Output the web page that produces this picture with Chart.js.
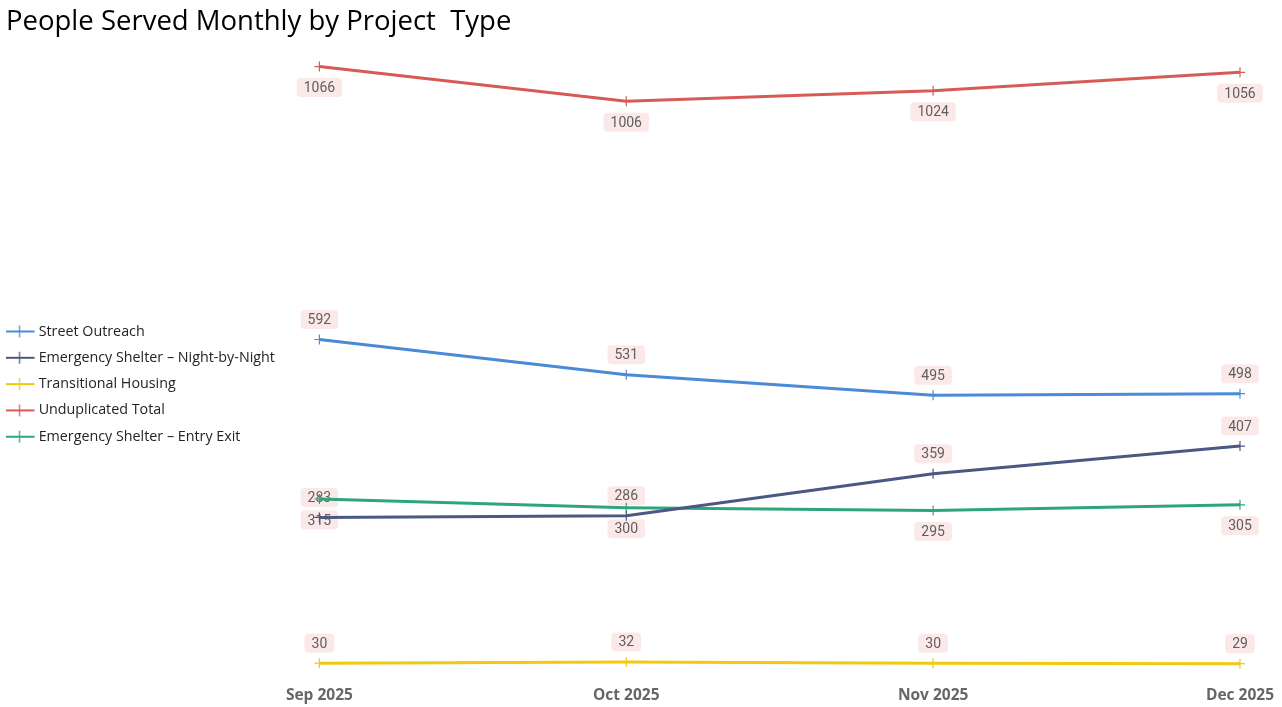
<!DOCTYPE html>
<html>
<head>
<meta charset="utf-8">
<script src="https://cdn.jsdelivr.net/npm/chart.js@4"></script>
<style>
  html, body { margin: 0; padding: 0; background: #ffffff; }
  #wrap { width: 1282px; height: 707px; position: relative; }
</style>
</head>
<body>
<div id="wrap"><canvas id="c"></canvas></div>
<script>
const months = ['Sep 2025', 'Oct 2025', 'Nov 2025', 'Dec 2025'];
const streetOutreach = [592, 531, 495, 498];
const nightByNight = [283, 286, 359, 407];
const transitionalHousing = [30, 32, 30, 29];
const unduplicatedTotal = [1066, 1006, 1024, 1056];
const entryExit = [315, 300, 295, 305];

const seriesNames = ['Street Outreach', 'Emergency Shelter \u2013 Night-by-Night', 'Transitional Housing', 'Unduplicated Total', 'Emergency Shelter \u2013 Entry Exit'];
const seriesColors = ['#4a8ad7', '#4b5883', '#f2c811', '#d65b57', '#2fa57c'];
const labelSide = ['above', 'above', 'above', 'below', 'below'];
const seriesData = [streetOutreach, nightByNight, transitionalHousing, unduplicatedTotal, entryExit];

// legend icon: line with a small vertical tick, drawn into a canvas used as pointStyle
function legendIcon(color) {
  const c = document.createElement('canvas');
  c.width = 60; c.height = 14;
  const g = c.getContext('2d');
  g.strokeStyle = color;
  g.lineWidth = 2;
  g.beginPath(); g.moveTo(9.75, 7); g.lineTo(39.75, 7); g.stroke();
  g.lineWidth = 1.2;
  g.beginPath(); g.moveTo(24.75, 1); g.lineTo(24.75, 13); g.stroke();
  return c;
}

const labelPlugin = {
  id: 'boxLabels',
  beforeDatasetsDraw(chart) {
    const ctx = chart.ctx;
    ctx.save();
    ctx.font = '14px Roboto';
    ctx.textAlign = 'center';
    ctx.textBaseline = 'middle';
    chart.data.datasets.forEach((ds, di) => {
      const meta = chart.getDatasetMeta(di);
      meta.data.forEach((pt, i) => {
        const txt = String(ds.data[i]);
        const off = labelSide[di] === 'above' ? -20 : 21;
        const cx = pt.x, cy = pt.y + off;
        const w = ctx.measureText(txt).width + 14, h = 19;
        ctx.fillStyle = 'rgba(250,226,226,0.75)';
        ctx.beginPath();
        ctx.roundRect(cx - w / 2, cy - h / 2, w, h, 4);
        ctx.fill();
        ctx.fillStyle = '#605e5c';
        ctx.fillText(txt, cx, cy + 1);
      });
    });
    ctx.restore();
  }
};

new Chart(document.getElementById('c'), {
  type: 'line',
  data: {
    labels: months,
    datasets: seriesNames.map((n, i) => ({
      label: n,
      data: seriesData[i],
      borderColor: seriesColors[i],
      backgroundColor: seriesColors[i],
      borderWidth: 3,
      pointStyle: 'cross',
      pointRadius: 5,
      pointBorderWidth: 1.2,
      tension: 0,
      fill: false
    }))
  },
  options: {
    responsive: true,
    maintainAspectRatio: false,
    animation: false,
    layout: { padding: { left: 6, right: 42, top: 0, bottom: -4 } },
    plugins: {
      title: {
        display: true,
        text: 'People Served Monthly by Project  Type',
        align: 'start',
        color: '#000000',
        font: { family: 'Open Sans', size: 27.5, weight: 'normal' },
        padding: { top: 6, bottom: 8 }
      },
      legend: {
        position: 'left',
        align: 'center',
        title: { display: true, text: ' ', font: { size: 1 }, padding: { top: 56, bottom: 0 } },
        labels: {
          usePointStyle: true,
          pointStyleWidth: 13.5,
          padding: 12,
          color: '#252423',
          font: { family: 'Open Sans', size: 14.3 },
          generateLabels(chart) {
            const items = Chart.defaults.plugins.legend.labels.generateLabels(chart);
            items.forEach((it) => { it.pointStyle = legendIcon(seriesColors[it.datasetIndex]); });
            return items;
          }
        }
      },
      tooltip: { enabled: false }
    },
    scales: {
      x: {
        offset: false,
        grid: { display: false, drawTicks: false },
        border: { display: false },
        ticks: {
          color: '#666666',
          padding: 6,
          maxRotation: 0,
          autoSkip: false,
          font: { family: 'Open Sans', size: 15.5, weight: 'bold' }
        }
      },
      y: {
        display: true,
        min: 0,
        max: 1100,
        grid: { display: false, drawTicks: false },
        border: { display: false },
        ticks: { display: false },
        afterFit(scale) { scale.width = 34.5; }
      }
    }
  },
  plugins: [labelPlugin]
});
</script>
</body>
</html>
